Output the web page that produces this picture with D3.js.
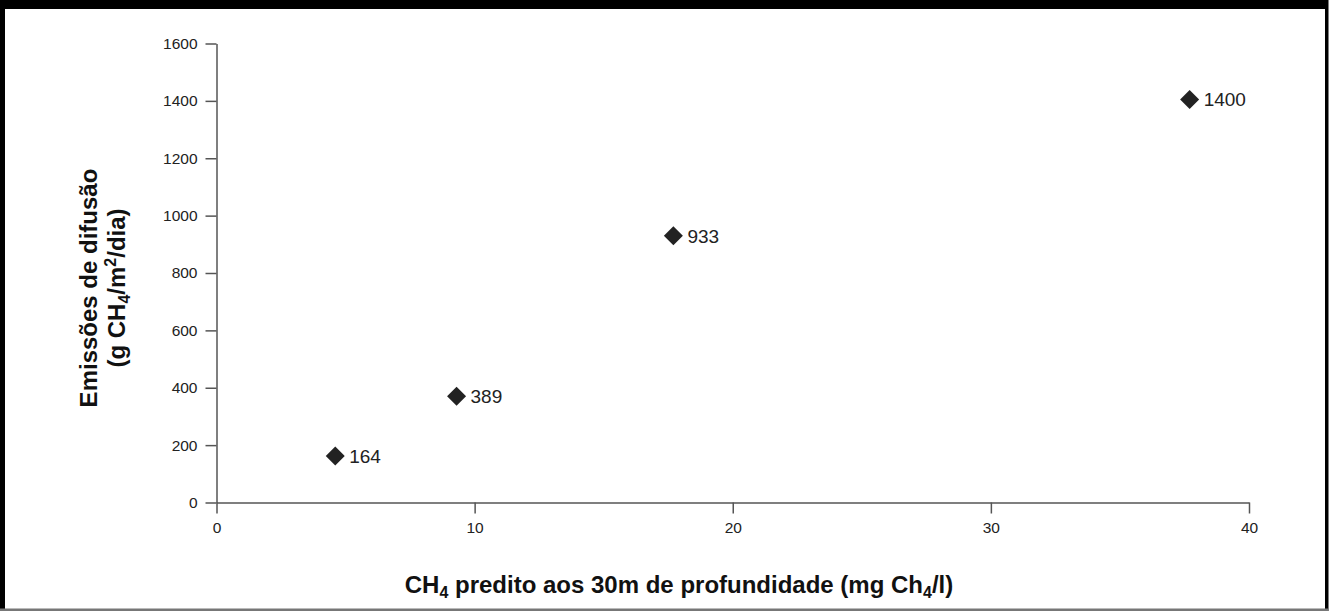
<!DOCTYPE html>
<html>
<head>
<meta charset="utf-8">
<script src="https://cdn.jsdelivr.net/npm/d3@7"></script>
<style>
  body { margin: 0; background: #fff; }
  text { font-family: "Liberation Sans", Arial, Helvetica, sans-serif; }
</style>
</head>
<body>
<script>
// data
var xValues = [4.6, 9.3, 17.7, 37.7];
var yValues = [162, 370, 930, 1405];
var pointLabels = ["164", "389", "933", "1400"];
var xTicks = [0, 10, 20, 30, 40];
var yTicks = [0, 200, 400, 600, 800, 1000, 1200, 1400, 1600];

var width = 1334, height = 611;

var svg = d3.select("body")
            .append("svg")
            .attr("width", width)
            .attr("height", height);

// frame around the figure
svg.append("rect").attr("x", 0).attr("y", 0).attr("width", 1328).attr("height", 9).attr("fill", "#000");
svg.append("rect").attr("x", 0).attr("y", 0).attr("width", 5).attr("height", 611).attr("fill", "#000");
svg.append("rect").attr("x", 1325).attr("y", 0).attr("width", 3.5).attr("height", 611).attr("fill", "#000");
svg.append("rect").attr("x", 0).attr("y", 608.5).attr("width", 1328).attr("height", 2.5).attr("fill", "#777");

var x = d3.scaleLinear().domain([0, 40]).range([216.5, 1249]);
var y = d3.scaleLinear().domain([0, 1600]).range([502.5, 43.5]);

var xAxis = svg.append("g")
               .attr("transform", "translate(0," + y(0) + ")")
               .call(d3.axisBottom(x).tickValues(xTicks).tickFormat(d3.format("d"))
                       .tickSize(11).tickSizeOuter(0).tickPadding(8));

var yAxis = svg.append("g")
               .attr("transform", "translate(" + x(0) + ",0)")
               .call(d3.axisLeft(y).tickValues(yTicks).tickFormat(d3.format("d"))
                       .tickSize(11).tickSizeOuter(0).tickPadding(8));

[xAxis, yAxis].forEach(function (g) {
  g.selectAll("path, line").attr("stroke", "#555").attr("stroke-width", 1.5);
  g.selectAll("text").attr("fill", "#222").style("font-size", "15.5px");
});

// diamond markers
svg.selectAll(".pt")
   .data(xValues)
   .enter()
   .append("path")
   .attr("class", "pt")
   .attr("d", d3.symbol(d3.symbolSquare, 180))
   .attr("transform", function (d, i) {
     return "translate(" + x(d) + "," + y(yValues[i]) + ") rotate(45)";
   })
   .attr("fill", "#222");

svg.selectAll(".lbl")
   .data(xValues)
   .enter()
   .append("text")
   .attr("class", "lbl")
   .attr("x", function (d) { return x(d) + 14; })
   .attr("y", function (d, i) { return y(yValues[i]); })
   .attr("dy", "0.36em")
   .attr("fill", "#222")
   .style("font-size", "19px")
   .text(function (d, i) { return pointLabels[i]; });

// x axis title
var xt = svg.append("text")
            .attr("x", 679)
            .attr("y", 593)
            .attr("text-anchor", "middle")
            .attr("fill", "#111")
            .style("font-size", "24px")
            .style("font-weight", "bold");
xt.append("tspan").text("CH");
xt.append("tspan").attr("dy", 5).style("font-size", "16px").text("4");
xt.append("tspan").attr("dy", -5).text(" predito aos 30m de profundidade (mg Ch");
xt.append("tspan").attr("dy", 5).style("font-size", "16px").text("4");
xt.append("tspan").attr("dy", -5).text("/l)");

// y axis title, two lines
var yt = svg.append("g").attr("transform", "translate(97,288) rotate(-90)");
yt.append("text")
  .attr("text-anchor", "middle")
  .attr("fill", "#111")
  .style("font-size", "24px")
  .style("font-weight", "bold")
  .text("Emissões de difusão");

var yt2 = yt.append("text")
            .attr("y", 28)
            .attr("text-anchor", "middle")
            .attr("fill", "#111")
            .style("font-size", "24px")
            .style("font-weight", "bold");
yt2.append("tspan").text("(g CH");
yt2.append("tspan").attr("dy", 5).style("font-size", "16px").text("4");
yt2.append("tspan").attr("dy", -5).text("/m");
yt2.append("tspan").attr("dy", -9).style("font-size", "16px").text("2");
yt2.append("tspan").attr("dy", 9).text("/dia)");
</script>
</body>
</html>
